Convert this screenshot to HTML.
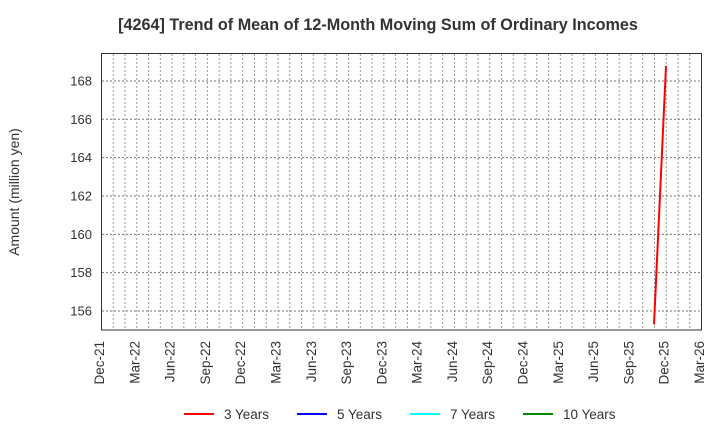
<!DOCTYPE html>
<html><head><style>body{margin:0;background:#fff}</style></head><body>
<svg width="720" height="440" xmlns="http://www.w3.org/2000/svg" font-family="Liberation Sans, sans-serif">
<text x="378" y="30" font-size="16.2" font-weight="bold" text-anchor="middle" fill="#333">[4264]  Trend of Mean of 12-Month Moving Sum of Ordinary Incomes</text>
<path fill="none" stroke="#999" stroke-dasharray="2,2" d="M113.26 54V330M125.03 54V330M136.79 54V330M148.56 54V330M160.32 54V330M172.09 54V330M183.85 54V330M195.62 54V330M207.38 54V330M219.15 54V330M230.91 54V330M242.68 54V330M254.44 54V330M266.21 54V330M277.97 54V330M289.74 54V330M301.5 54V330M313.26 54V330M325.03 54V330M336.79 54V330M348.56 54V330M360.32 54V330M372.09 54V330M383.85 54V330M395.62 54V330M407.38 54V330M419.15 54V330M430.91 54V330M442.68 54V330M454.44 54V330M466.21 54V330M477.97 54V330M489.74 54V330M501.5 54V330M513.26 54V330M525.03 54V330M536.79 54V330M548.56 54V330M560.32 54V330M572.09 54V330M583.85 54V330M595.62 54V330M607.38 54V330M619.15 54V330M630.91 54V330M642.68 54V330M654.44 54V330M666.21 54V330M677.97 54V330M689.74 54V330"/>
<path fill="none" stroke="#777" stroke-dasharray="2,2" d="M102 311H701M102 272.66H701M102 234.32H701M102 195.98H701M102 157.64H701M102 119.3H701M102 80.96H701"/>
<g font-size="13" text-anchor="end" fill="#333">
<text x="92" y="315.5">156</text><text x="92" y="277.2">158</text><text x="92" y="238.8">160</text><text x="92" y="200.5">162</text><text x="92" y="162.1">164</text><text x="92" y="123.8">166</text><text x="92" y="85.5">168</text>
</g>
<rect x="101.5" y="53.5" width="600" height="276.5" fill="none" stroke="#333" stroke-width="1"/>
<text transform="translate(19,192) rotate(-90)" font-size="14" text-anchor="middle" fill="#333">Amount (million yen)</text>
<g font-size="13.5" text-anchor="end" fill="#333">
<text transform="translate(104,341) rotate(-90)">Dec-21</text>
<text transform="translate(139.3,341) rotate(-90)">Mar-22</text>
<text transform="translate(174.6,341) rotate(-90)">Jun-22</text>
<text transform="translate(209.9,341) rotate(-90)">Sep-22</text>
<text transform="translate(245.2,341) rotate(-90)">Dec-22</text>
<text transform="translate(280.5,341) rotate(-90)">Mar-23</text>
<text transform="translate(315.8,341) rotate(-90)">Jun-23</text>
<text transform="translate(351.1,341) rotate(-90)">Sep-23</text>
<text transform="translate(386.4,341) rotate(-90)">Dec-23</text>
<text transform="translate(421.7,341) rotate(-90)">Mar-24</text>
<text transform="translate(456.9,341) rotate(-90)">Jun-24</text>
<text transform="translate(492.2,341) rotate(-90)">Sep-24</text>
<text transform="translate(527.5,341) rotate(-90)">Dec-24</text>
<text transform="translate(562.8,341) rotate(-90)">Mar-25</text>
<text transform="translate(598.1,341) rotate(-90)">Jun-25</text>
<text transform="translate(633.4,341) rotate(-90)">Sep-25</text>
<text transform="translate(668.7,341) rotate(-90)">Dec-25</text>
<text transform="translate(704,341) rotate(-90)">Mar-26</text>
</g>
<polyline points="654,324.5 666,66" fill="none" stroke="#f00" stroke-width="2"/>
<g font-size="13.5" fill="#333">
<line x1="184" y1="414" x2="214" y2="414" stroke="#f00" stroke-width="2"/><text x="224" y="419">3 Years</text>
<line x1="297" y1="414" x2="327" y2="414" stroke="#00f" stroke-width="2"/><text x="337" y="419">5 Years</text>
<line x1="410" y1="414" x2="440" y2="414" stroke="#0ff" stroke-width="2"/><text x="450" y="419">7 Years</text>
<line x1="523" y1="414" x2="553" y2="414" stroke="#080" stroke-width="2"/><text x="563" y="419">10 Years</text>
</g>
</svg>
</body></html>
